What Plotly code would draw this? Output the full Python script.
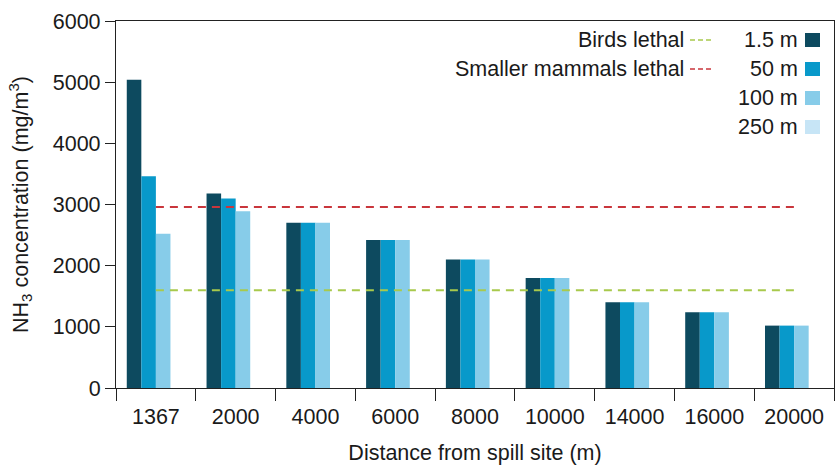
import plotly.graph_objects as go

# Ammonia concentration by distance from the spill site, per sampling height
distances = ["1367", "2000", "4000", "6000", "8000", "10000", "14000", "16000", "20000"]
conc_1_5m = [5040, 3180, 2700, 2420, 2100, 1800, 1400, 1240, 1020]
conc_50m = [3460, 3100, 2700, 2420, 2100, 1800, 1400, 1240, 1020]
conc_100m = [2520, 2890, 2700, 2420, 2100, 1800, 1400, 1240, 1020]
conc_250m = [0, 0, 0, 0, 0, 0, 0, 0, 0]

heights = ["1.5 m", "50 m", "100 m", "250 m"]
height_colors = ["#0d4a5f", "#0899ca", "#87cce9", "#c7e5f6"]

# Lethal thresholds (mg/m3)
birds_lethal = 1600
mammals_lethal = 2960
threshold_names = ["Birds lethal", "Smaller mammals lethal"]
threshold_colors = ["#a8c94c", "#c9363c"]

FONT = "Arial, Liberation Sans, sans-serif"
FS = 21.5
W, H = 835, 468
ML, MR, MT, MB = 116, 1, 21, 80

fig = go.Figure()
for name, vals, col in zip(heights, [conc_1_5m, conc_50m, conc_100m, conc_250m], height_colors):
    fig.add_trace(go.Bar(x=distances, y=vals, name=name, marker_color=col,
                         marker_line_width=0, showlegend=False))

for name, val, col in zip(threshold_names, [birds_lethal, mammals_lethal], threshold_colors):
    fig.add_trace(go.Scatter(x=[distances[0], distances[-1]], y=[val, val], mode="lines",
                             name=name, line=dict(color=col, width=2, dash="8px,6px"),
                             showlegend=False))

# Hand-built legend: label text followed by its swatch on the right
pw, ph = W - ML - MR, H - MT - MB


def px_x(px):
    return (px - ML) / pw


def px_y(py):
    return (H - MB - py) / ph


annotations = []
shapes = []
row_y = [40, 69, 98, 127]
for i, (name, col) in enumerate(zip(threshold_names, threshold_colors)):
    annotations.append(dict(x=px_x(686), y=px_y(row_y[i]), xref="paper", yref="paper",
                            text=name, showarrow=False, xanchor="right", yanchor="middle",
                            font=dict(size=FS, color="#1a1a1a", family=FONT)))
    shapes.append(dict(type="line", xref="paper", yref="paper",
                       x0=px_x(690), x1=px_x(712), y0=px_y(row_y[i]), y1=px_y(row_y[i]),
                       line=dict(color=col, width=1.5, dash="5px,3px")))
for i, (name, col) in enumerate(zip(heights, height_colors)):
    annotations.append(dict(x=px_x(800), y=px_y(row_y[i]), xref="paper", yref="paper",
                            text=name, showarrow=False, xanchor="right", yanchor="middle",
                            font=dict(size=FS, color="#1a1a1a", family=FONT)))
    shapes.append(dict(type="rect", xref="paper", yref="paper",
                       x0=px_x(805), x1=px_x(820), y0=px_y(row_y[i] - 7), y1=px_y(row_y[i] + 7),
                       fillcolor=col, line=dict(width=0)))

fig.update_layout(
    width=W, height=H,
    margin=dict(l=ML, r=MR, t=MT, b=MB, autoexpand=False),
    paper_bgcolor="white", plot_bgcolor="white",
    barmode="group", bargap=0.27, bargroupgap=0,
    font=dict(family=FONT, size=FS, color="#1a1a1a"),
    annotations=annotations, shapes=shapes,
    showlegend=False,
)
fig.update_xaxes(
    type="category", tickson="boundaries", ticks="outside", ticklen=12, tickwidth=1.2,
    tickcolor="#222", showline=True, linecolor="#222", linewidth=1.2, mirror=True,
    showgrid=False, tickfont=dict(size=FS), ticklabelstandoff=9,
    title=dict(text="Distance from spill site (m)", font=dict(size=FS), standoff=17),
)
fig.update_yaxes(
    range=[0, 6000], dtick=1000, ticks="outside", ticklen=10, tickwidth=1.2,
    tickcolor="#222", showline=True, linecolor="#222", linewidth=1.2, mirror=True,
    showgrid=False, zeroline=False, tickfont=dict(size=FS),
    title=dict(text="NH<sub>3</sub> concentration (mg/m<sup>3</sup>)", font=dict(size=FS), standoff=18),
)

fig.write_html("out.html")
